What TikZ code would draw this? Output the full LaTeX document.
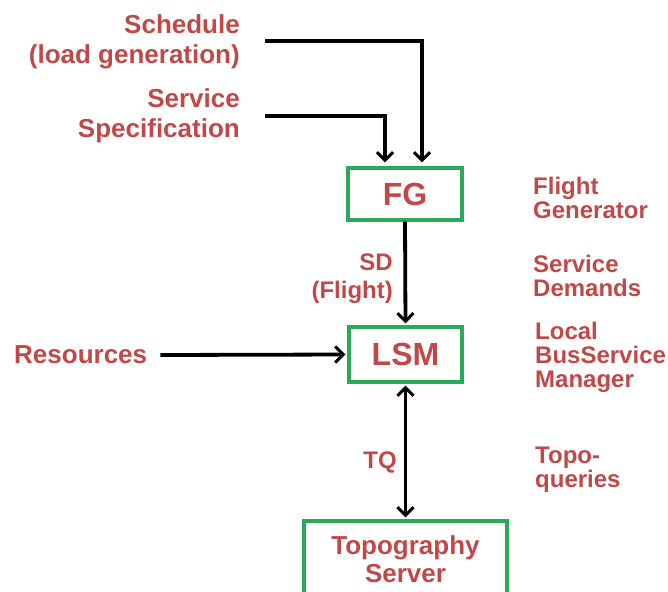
\documentclass[tikz,border=0pt]{standalone}
\usepackage{fontspec}
\setmainfont{Liberation Sans}
\usetikzlibrary{arrows.meta}
\definecolor{lblred}{RGB}{192,72,72}
\definecolor{boxgreen}{RGB}{40,170,90}
\tikzset{
  lbl/.style={inner sep=0pt, text=lblred, font=\bfseries\fontsize{24}{24}\selectfont},
  biglbl/.style={inner sep=0pt, text=lblred, font=\bfseries\fontsize{26}{30}\selectfont},
  boxlbl/.style={draw=boxgreen, line width=3.4pt, text=lblred, inner sep=0pt, font=\bfseries\fontsize{32}{36}\selectfont},
  tip/.tip={Straight Barb[length=8pt,width=16pt,line width=3pt]},
  conn/.style={line width=3.8pt, black, -tip},
  dconn/.style={line width=3.8pt, black, tip-tip}
}
\begin{document}
\begin{tikzpicture}[x=1pt,y=-1pt]
\clip (0,0) rectangle (668,591);
\useasboundingbox (0,0) rectangle (668,591);
\node[biglbl, align=right, anchor=east] (sched) at (240,42) {Schedule\\(load generation)};
\node[biglbl, align=right, anchor=east] (serv) at (240,116) {Service\\Specification};
\node[boxlbl, minimum width=114pt, minimum height=52pt] (fg) at (405,194) {FG};
\node[boxlbl, minimum width=113pt, minimum height=55pt] (lsm) at (405.5,354.5) {LSM};
\node[boxlbl, minimum width=203pt, minimum height=76pt, font=\bfseries\fontsize{26}{28}\selectfont, align=center] (topo) at (405.5,559) {Topography\\Server};
\node[biglbl, anchor=west] (res) at (14,355) {Resources};
\node[lbl, align=right, anchor=east, font=\bfseries\fontsize{24}{28}\selectfont] (sd) at (393,279) {SD\\(Flight)};
\node[lbl, anchor=east] (tq) at (397,462) {TQ};
\node[lbl, align=left, anchor=west] (fgname) at (533,198) {Flight\\Generator};
\node[lbl, align=left, anchor=west] (sdname) at (533,276) {Service\\Demands};
\node[lbl, align=left, anchor=west] (lsmname) at (535,357) {Local\\BusService\\Manager};
\node[lbl, align=left, anchor=west] (tqname) at (535,470) {Topo-\\queries};
\draw[conn, shorten >=4pt] ([xshift=25pt,yshift=1pt]sched.east) -| ([xshift=17pt]fg.north);
\draw[conn, shorten >=4pt] ([xshift=25pt]serv.east) -| ([xshift=-20pt]fg.north);
\draw[conn, shorten >=2pt] (fg.south) -- (lsm.north);
\draw[conn, shorten >=2pt] ([xshift=13pt]res.east) -- (lsm.west);
\draw[dconn, shorten >=2pt, shorten <=2pt] (lsm.south) -- (topo.north);
\end{tikzpicture}
\end{document}
